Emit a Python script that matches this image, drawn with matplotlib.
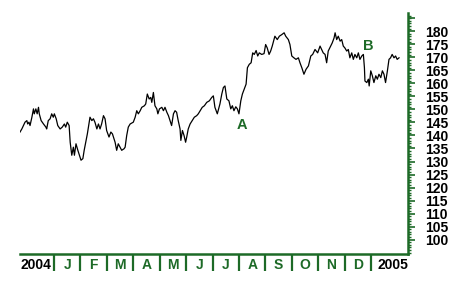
import matplotlib
matplotlib.use("Agg")
import matplotlib.pyplot as plt
import matplotlib.transforms as mtransforms
import numpy as np

# time in months since 2004-01-01, price
t_months = [
    -1.29, -1.22, -1.16, -1.10, -1.03, -1.00, -0.95, -0.91, -0.84, -0.78,
    -0.75, -0.69, -0.64, -0.59, -0.56, -0.49, -0.40, -0.31, -0.28, -0.22,
    -0.15, -0.09, -0.03, 0.01, 0.08, 0.14, 0.23, 0.31, 0.39, 0.44,
    0.50, 0.57, 0.61, 0.67, 0.73, 0.77, 0.83, 0.90, 0.96, 1.02,
    1.09, 1.14, 1.20, 1.26, 1.32, 1.36, 1.43, 1.49, 1.55, 1.62,
    1.68, 1.74, 1.80, 1.87, 1.93, 1.99, 2.08, 2.15, 2.21, 2.31,
    2.37, 2.43, 2.50, 2.56, 2.65, 2.69, 2.75, 2.81, 2.88, 3.00,
    3.07, 3.13, 3.19, 3.26, 3.32, 3.42, 3.47, 3.53, 3.60, 3.66,
    3.70, 3.76, 3.82, 3.89, 3.93, 3.99, 4.08, 4.14, 4.20, 4.27,
    4.33, 4.39, 4.45, 4.52, 4.58, 4.64, 4.70, 4.77, 4.80, 4.86,
    4.92, 4.98, 5.02, 5.08, 5.15, 5.23, 5.31, 5.40, 5.46, 5.53,
    5.61, 5.69, 5.78, 5.88, 5.97, 6.03, 6.09, 6.18, 6.28, 6.35,
    6.41, 6.47, 6.54, 6.62, 6.69, 6.75, 6.81, 6.88, 6.94, 7.00,
    7.07, 7.13, 7.20, 7.27, 7.32, 7.39, 7.46, 7.52, 7.58, 7.65,
    7.71, 7.77, 7.86, 7.95, 8.01, 8.07, 8.14, 8.20, 8.26, 8.36,
    8.45, 8.53, 8.62, 8.71, 8.77, 8.87, 8.93, 9.00, 9.08, 9.16,
    9.25, 9.31, 9.38, 9.46, 9.54, 9.63, 9.72, 9.79, 9.88, 9.98,
    10.07, 10.13, 10.19, 10.26, 10.32, 10.38, 10.47, 10.53, 10.60, 10.64,
    10.70, 10.76, 10.83, 10.89, 10.95, 11.01, 11.08, 11.14, 11.20, 11.27,
    11.33, 11.39, 11.46, 11.52, 11.58, 11.65, 11.71, 11.75, 11.77, 11.84,
    11.90, 11.93, 11.99, 12.05, 12.11, 12.18, 12.24, 12.30, 12.37, 12.43,
    12.49, 12.55, 12.62, 12.68, 12.74, 12.80, 12.87, 12.93, 12.99, 13.06,
]
price = [
    141.3, 142.5, 143.8, 145.1, 145.7, 144.4, 145.1, 143.8, 147.0, 150.2,
    148.3, 150.2, 148.3, 150.8, 148.3, 145.7, 144.4, 143.2, 142.5, 145.7,
    146.4, 148.3, 147.0, 148.3, 146.4, 143.8, 142.5, 143.2, 144.4, 143.2,
    145.1, 143.8, 137.4, 132.4, 135.5, 132.4, 136.8, 134.3, 132.4, 130.5,
    131.1, 134.3, 137.4, 140.6, 144.4, 147.0, 145.7, 146.4, 145.0, 142.5,
    144.4, 142.5, 144.4, 147.6, 146.4, 141.9, 139.4, 141.3, 140.6, 137.4,
    134.3, 136.8, 135.5, 134.3, 134.9, 135.5, 140.0, 143.2, 144.4, 145.1,
    147.0, 149.5, 148.3, 149.5, 150.8, 151.4, 152.1, 155.9, 154.0, 154.6,
    152.7, 156.5, 151.4, 150.2, 148.3, 150.2, 150.8, 149.5, 150.8, 148.9,
    147.6, 145.7, 143.8, 148.3, 149.5, 148.9, 145.7, 142.5, 138.1, 141.9,
    140.0, 137.4, 139.3, 142.5, 144.4, 145.7, 147.0, 147.6, 148.3, 149.5,
    150.8, 151.4, 152.7, 153.3, 154.6, 155.2, 150.8, 148.3, 152.1, 155.9,
    158.4, 159.0, 154.0, 153.3, 150.2, 151.4, 149.5, 151.0, 150.2, 148.3,
    153.3, 155.9, 157.8, 159.7, 166.0, 167.3, 167.9, 171.7, 171.1, 172.6,
    170.5, 171.7, 171.1, 171.4, 174.9, 173.6, 171.1, 172.4, 174.3, 178.1,
    176.8, 178.1, 178.7, 179.4, 178.1, 176.8, 174.9, 170.5, 169.8, 169.2,
    169.8, 167.9, 166.0, 163.5, 165.4, 166.7, 170.5, 171.1, 173.0, 171.7,
    174.3, 173.0, 171.7, 171.1, 167.9, 172.4, 174.3, 175.5, 177.4, 179.4,
    176.8, 178.1, 176.2, 176.8, 174.3, 173.6, 172.4, 173.0, 169.8, 171.7,
    169.2, 171.1, 169.8, 171.7, 169.2, 170.5, 171.1, 166.0, 160.9, 160.3,
    161.6, 159.0, 164.8, 162.9, 160.3, 162.9, 161.6, 163.5, 162.2, 164.8,
    163.5, 160.3, 164.8, 169.2, 169.8, 171.1, 169.8, 170.5, 169.2, 169.8,
]

month_labels = ["J", "F", "M", "A", "M", "J", "J", "A", "S", "O", "N", "D"]
year_labels = ["2004", "2005"]
y_labels = list(range(100, 181, 5))

GREEN = "#1d6a27"
FONT = "Liberation Sans"
FS = 10

fig = plt.figure(figsize=(4.65, 2.91), dpi=100)
ax = fig.add_axes([20 / 465, 1 - 254 / 291, 388 / 465, 241 / 291])

ax.plot(t_months, price, color="black", lw=0.9)

ax.set_xlim(-1.29, 13.40)
ax.set_ylim(94.5, 187)

for s in ["top", "left"]:
    ax.spines[s].set_visible(False)
ax.spines["right"].set_color(GREEN)
ax.spines["bottom"].set_color(GREEN)
ax.spines["right"].set_linewidth(1.8)
ax.spines["bottom"].set_linewidth(1.8)

ax.yaxis.tick_right()
ax.set_yticks(y_labels)
ax.set_yticks(np.arange(95, 187, 1), minor=True)
ax.set_yticklabels([str(v) for v in y_labels], fontfamily=FONT,
                   fontweight="bold", fontsize=FS)
ax.tick_params(axis="y", which="major", direction="out", length=5,
               width=1.2, color=GREEN, pad=7)
ax.tick_params(axis="y", which="minor", direction="out", length=2.5,
               width=1.0, color=GREEN)
# the unlabeled long tick at 185
ax.plot([1, 1.018], [185, 185], transform=mtransforms.blended_transform_factory(ax.transAxes, ax.transData),
        color=GREEN, lw=1.2, clip_on=False, solid_capstyle="butt")
ax.set_xticks([])

trans = mtransforms.blended_transform_factory(ax.transData, ax.transAxes)
for m in range(13):
    ax.plot([m, m], [0, -0.07], transform=trans, color=GREEN, lw=1.6,
            clip_on=False, solid_capstyle="butt")
for m, lab in enumerate(month_labels):
    ax.text(m + 0.5, -0.046, lab, transform=trans, ha="center", va="center",
            color=GREEN, fontfamily=FONT, fontweight="bold", fontsize=FS)
ax.text(-1.29, -0.046, year_labels[0], transform=trans, ha="left", va="center",
        color="black", fontfamily=FONT, fontweight="bold", fontsize=FS)
ax.text(13.42, -0.046, year_labels[1], transform=trans, ha="right", va="center",
        color="black", fontfamily=FONT, fontweight="bold", fontsize=FS)

ax.text(7.12, 143.9, "A", ha="center", va="center", color=GREEN,
        fontfamily=FONT, fontweight="bold", fontsize=10.5)
ax.text(11.88, 174.2, "B", ha="center", va="center", color=GREEN,
        fontfamily=FONT, fontweight="bold", fontsize=10.5)

fig.savefig("out.png", dpi=100)
